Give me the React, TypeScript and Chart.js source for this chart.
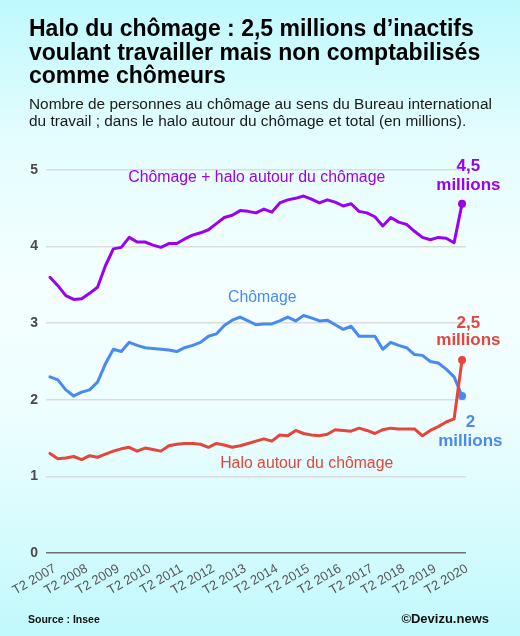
import React, { useEffect, useRef } from "react";
import { Chart, registerables } from "chart.js";

Chart.register(...registerables);

const FONT = '"Liberation Sans", Arial, Helvetica, sans-serif';
const PURPLE = "#9b00f0";
const BLUE = "#4a8af0";
const RED = "#e5453a";

const quarters = [
  "T2 2007", "T3 2007", "T4 2007",
  "T1 2008", "T2 2008", "T3 2008", "T4 2008",
  "T1 2009", "T2 2009", "T3 2009", "T4 2009",
  "T1 2010", "T2 2010", "T3 2010", "T4 2010",
  "T1 2011", "T2 2011", "T3 2011", "T4 2011",
  "T1 2012", "T2 2012", "T3 2012", "T4 2012",
  "T1 2013", "T2 2013", "T3 2013", "T4 2013",
  "T1 2014", "T2 2014", "T3 2014", "T4 2014",
  "T1 2015", "T2 2015", "T3 2015", "T4 2015",
  "T1 2016", "T2 2016", "T3 2016", "T4 2016",
  "T1 2017", "T2 2017", "T3 2017", "T4 2017",
  "T1 2018", "T2 2018", "T3 2018", "T4 2018",
  "T1 2019", "T2 2019", "T3 2019", "T4 2019",
  "T1 2020", "T2 2020",
];

// Chômage + halo (millions)
const totalValues = [
  3.60, 3.49, 3.36, 3.31, 3.32, 3.39, 3.47, 3.75, 3.97, 3.99,
  4.12, 4.06, 4.06, 4.02, 3.99, 4.04, 4.04, 4.10, 4.15, 4.18,
  4.22, 4.30, 4.38, 4.41, 4.47, 4.46, 4.44, 4.49, 4.45, 4.57,
  4.61, 4.63, 4.66, 4.62, 4.57, 4.61, 4.58, 4.53, 4.56, 4.46,
  4.44, 4.39, 4.27, 4.38, 4.32, 4.29, 4.20, 4.12, 4.09, 4.12,
  4.11, 4.05, 4.56,
];

// Chômage BIT (millions)
const chomageValues = [
  2.30, 2.26, 2.13, 2.05, 2.10, 2.13, 2.23, 2.47, 2.66, 2.63,
  2.75, 2.71, 2.68, 2.67, 2.66, 2.65, 2.63, 2.68, 2.71, 2.75,
  2.83, 2.86, 2.97, 3.04, 3.08, 3.03, 2.98, 2.99, 2.99, 3.03,
  3.08, 3.03, 3.10, 3.07, 3.03, 3.04, 2.98, 2.92, 2.96, 2.83,
  2.83, 2.83, 2.66, 2.75, 2.71, 2.68, 2.59, 2.58, 2.50, 2.48,
  2.40, 2.30, 2.05,
];

// Halo autour du chômage (millions)
const haloValues = [
  1.30, 1.23, 1.24, 1.26, 1.22, 1.27, 1.25, 1.29, 1.33, 1.36,
  1.38, 1.33, 1.37, 1.35, 1.33, 1.40, 1.42, 1.43, 1.43, 1.42,
  1.38, 1.43, 1.41, 1.38, 1.40, 1.43, 1.46, 1.49, 1.46, 1.54,
  1.53, 1.60, 1.56, 1.54, 1.53, 1.55, 1.61, 1.60, 1.59, 1.63,
  1.60, 1.56, 1.61, 1.63, 1.62, 1.62, 1.62, 1.53, 1.60, 1.65,
  1.71, 1.75, 2.52,
];

const yTicks = [0, 1, 2, 3, 4, 5];

type Note = { text: string; index: number; value: number; color: string; bold: boolean; size: number };

const notes: Note[] = [
  { text: "Chômage + halo autour du chômage", index: 26.1, value: 4.9, color: PURPLE, bold: false, size: 15.8 },
  { text: "Chômage", index: 26.8, value: 3.33, color: BLUE, bold: false, size: 15.8 },
  { text: "Halo autour du chômage", index: 32.4, value: 1.16, color: RED, bold: false, size: 15.8 },
  { text: "4,5", index: 52.8, value: 5.05, color: PURPLE, bold: true, size: 17 },
  { text: "millions", index: 52.8, value: 4.8, color: PURPLE, bold: true, size: 17 },
  { text: "2,5", index: 52.8, value: 3.0, color: RED, bold: true, size: 17 },
  { text: "millions", index: 52.8, value: 2.78, color: RED, bold: true, size: 17 },
  { text: "2", index: 53.05, value: 1.71, color: BLUE, bold: true, size: 17 },
  { text: "millions", index: 53.05, value: 1.46, color: BLUE, bold: true, size: 17 },
];

const notesPlugin = {
  id: "notes",
  afterDatasetsDraw(chart: any) {
    const { ctx, scales } = chart;
    const x = scales.x;
    const y = scales.y;
    ctx.save();
    ctx.textAlign = "center";
    ctx.textBaseline = "middle";
    for (const n of notes) {
      ctx.font = `${n.bold ? "bold " : ""}${n.size}px ${FONT}`;
      ctx.fillStyle = n.color;
      ctx.fillText(n.text, x.getPixelForValue(n.index), y.getPixelForValue(n.value));
    }
    ctx.restore();
  },
};

function lastPointRadius(ctx: any) {
  return ctx.dataIndex === quarters.length - 1 ? 4 : 0;
}

export default function App() {
  const canvasRef = useRef<HTMLCanvasElement | null>(null);

  useEffect(() => {
    const canvas = canvasRef.current;
    if (!canvas) return;
    const mk = (label: string, data: number[], color: string) => ({
      label,
      data,
      borderColor: color,
      backgroundColor: color,
      borderWidth: 3,
      tension: 0,
      borderJoinStyle: "round" as const,
      borderCapStyle: "round" as const,
      pointRadius: lastPointRadius,
      pointHoverRadius: 0,
      pointBorderWidth: 0,
      fill: false,
    });
    const chart = new Chart(canvas, {
      type: "line",
      data: {
        labels: quarters,
        datasets: [
          mk("Halo autour du chômage", haloValues, RED),
          mk("Chômage", chomageValues, BLUE),
          mk("Chômage + halo autour du chômage", totalValues, PURPLE),
        ],
      },
      options: {
        animation: false,
        responsive: false,
        maintainAspectRatio: false,
        layout: { padding: { top: 170, right: 54, left: 0, bottom: 0 } },
        plugins: {
          legend: { display: false },
          tooltip: { enabled: false },
          title: { display: false },
        },
        scales: {
          x: {
            offset: true,
            grid: { display: false, drawTicks: false },
            border: { display: false },
            ticks: {
              autoSkip: false,
              maxRotation: 30,
              minRotation: 30,
              color: "#555",
              padding: 8,
              labelOffset: 5,
              font: { size: 13, family: FONT },
              callback: (_v: any, i: number) => (quarters[i].startsWith("T2") ? quarters[i] : ""),
            },
            afterFit: (s: any) => {
              s.height = 83;
            },
          },
          y: {
            min: 0,
            max: 5,
            afterBuildTicks: (s: any) => {
              s.ticks = yTicks.map((v) => ({ value: v }));
            },
            ticks: {
              color: "#4a4a4a",
              padding: 8,
              font: { size: 14, weight: "bold", family: FONT },
            },
            grid: {
              drawTicks: false,
              lineWidth: 1.5,
              color: (c: any) => (c.tick && c.tick.value === 0 ? "#707070" : "#dcdcdc"),
            },
            border: { display: false },
            afterFit: (s: any) => {
              s.width = 46;
            },
          },
        },
      },
      plugins: [notesPlugin],
    } as any);
    return () => chart.destroy();
  }, []);

  return (
    <div
      style={{
        position: "absolute",
        left: 0,
        top: 0,
        width: 520,
        height: 636,
        overflow: "hidden",
        background: "linear-gradient(to bottom, #bff9fd 0%, #e4fdfe 22%, #f4ffff 45%, #eefeff 65%, #c1f9fc 100%)",
        fontFamily: FONT,
      }}
    >
      <canvas
        ref={canvasRef}
        width={520}
        height={636}
        style={{ position: "absolute", left: 0, top: 0, width: 520, height: 636 }}
      />
      <div
        style={{
          position: "absolute",
          left: 29,
          top: 17,
          fontSize: 23,
          lineHeight: "23.5px",
          fontWeight: "bold",
          color: "#000",
          whiteSpace: "nowrap",
        }}
      >
        <div>Halo du chômage : 2,5 millions d’inactifs</div>
        <div>voulant travailler mais non comptabilisés</div>
        <div>comme chômeurs</div>
      </div>
      <div
        style={{
          position: "absolute",
          left: 29,
          top: 94.5,
          fontSize: 15.4,
          lineHeight: "17px",
          color: "#1a1a1a",
          whiteSpace: "nowrap",
        }}
      >
        <div>Nombre de personnes au chômage au sens du Bureau international</div>
        <div>du travail ; dans le halo autour du chômage et total (en millions).</div>
      </div>
      <div
        style={{
          position: "absolute",
          left: 28,
          top: 613,
          fontSize: 10.5,
          lineHeight: "12px",
          fontWeight: "bold",
          color: "#111",
          whiteSpace: "nowrap",
        }}
      >
        Source : Insee
      </div>
      <div
        style={{
          position: "absolute",
          right: 31,
          top: 612,
          fontSize: 13,
          lineHeight: "14px",
          fontWeight: "bold",
          color: "#111",
          whiteSpace: "nowrap",
        }}
      >
        ©Devizu.news
      </div>
    </div>
  );
}
